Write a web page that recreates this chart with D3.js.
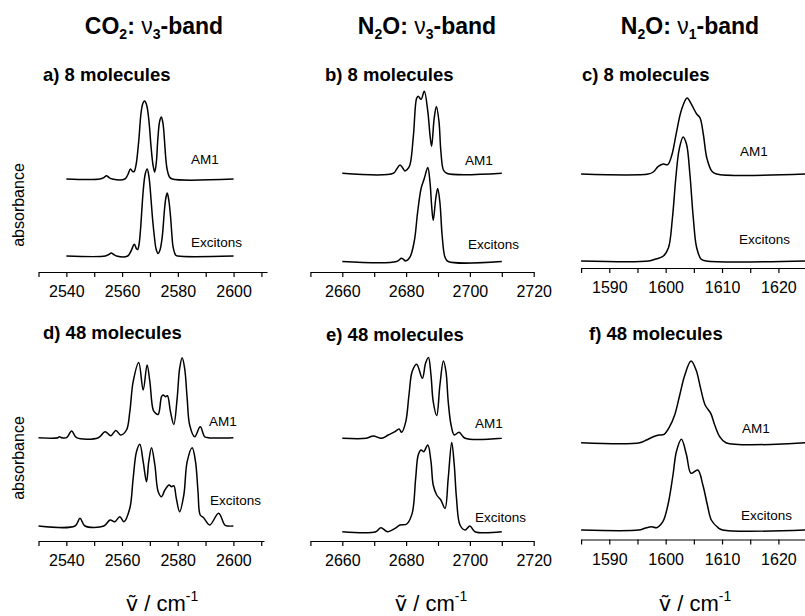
<!DOCTYPE html>
<html>
<head>
<meta charset="utf-8">
<script src="https://cdn.jsdelivr.net/npm/d3@7"></script>
<style>
  body { margin: 0; background: #fff; }
  svg { display: block; font-family: "Liberation Sans", Arial, sans-serif; }
  .axis path, .axis line { stroke: #000; stroke-width: 1.2; }
  .axis text { font-size: 16px; fill: #000; }
</style>
</head>
<body>
<div id="chart"></div>
<script>
// spectra: [wavenumber cm-1, absorbance a.u.]
const co2_8_am1 = [[2540,0],[2552,0],[2553.5,1.5],[2554.4,3.3],[2555.3,1.5],[2556.5,0],[2561,0],[2562,4],[2563,10],[2563.8,7.5],[2564.3,7.3],[2565,14],[2566,39],[2566.8,66],[2567.5,76],[2568.1,78],[2568.8,74],[2569.6,59],[2570.4,32],[2571.1,14],[2571.7,7],[2572.3,17],[2572.8,39],[2573.5,58],[2574.1,62],[2574.7,55],[2575.2,39],[2575.7,20],[2576.2,9],[2577,2],[2578,0],[2600,0]];
const co2_8_exc = [[2540,0],[2554,0],[2555.2,1.5],[2556.1,3],[2557,1.5],[2558,0],[2562,0],[2563.2,5],[2564.4,11.7],[2565.2,7],[2565.6,6.5],[2566.1,12],[2566.6,26],[2567.6,66],[2568.3,82],[2569,87],[2569.7,78],[2570.4,56],[2571,35],[2571.6,19],[2572.2,7],[2572.9,2.5],[2573.6,6],[2574.4,19],[2575.2,46],[2575.7,58],[2576.2,63],[2576.8,55],[2577.4,39],[2577.9,20],[2578.3,9],[2579.2,1],[2580,0],[2600,0]];

const n2o3_8_am1 = [[2660,0],[2676,0],[2677,4],[2678.1,8.3],[2679,5],[2679.6,2.3],[2680.4,4],[2681.2,8.3],[2682.3,38],[2683.3,75],[2683.8,77],[2684.7,74],[2685.7,82],[2686.8,62],[2687.5,38],[2688,27],[2688.8,55],[2689.5,66.7],[2690.3,52],[2690.9,22],[2691.7,3.3],[2692.7,0],[2710,0]];
const n2o3_8_exc = [[2660,0],[2677,0],[2678.6,3.3],[2679.9,0.5],[2681.2,4.3],[2682.6,21],[2683.6,49],[2684.7,73],[2685.7,83],[2686.8,94],[2687.5,79],[2688,56],[2688.5,41],[2689.3,63],[2689.9,73],[2690.6,59],[2691.3,26],[2692.2,4.3],[2693.2,0],[2710,0]];

const n2o1_8_am1 = [[1585,0],[1596.9,0],[1597.8,2],[1598.7,7.7],[1599.6,10],[1600.35,9.3],[1601.1,19],[1601.95,42.7],[1602.8,64],[1603.8,76],[1604.6,69.3],[1605.5,60],[1606.1,56],[1606.7,39],[1607.3,16],[1608.2,2.7],[1609,0],[1625,0]];
const n2o1_8_exc = [[1585,0],[1597,0],[1598.1,1.7],[1599.6,5],[1600.5,13.3],[1601.2,43],[1601.8,83],[1602.4,111.7],[1603.1,124],[1603.7,116.7],[1604.3,86.7],[1604.9,43],[1605.5,13.3],[1606.3,1.7],[1607.2,0],[1625,0]];

const co2_48_am1 = [[2530,0],[2537,0],[2537.5,1],[2538.3,0],[2540.1,0],[2541.9,6.7],[2543.7,0],[2551.5,0],[2553.9,6],[2556,2],[2557.8,7.3],[2559.5,2.7],[2561.6,7.7],[2562.8,26],[2564,56],[2566,75.3],[2567.6,47.7],[2569,72.7],[2570,56],[2571.2,27.7],[2572.1,24.3],[2573,23.3],[2574.2,41],[2574.8,42.7],[2575.6,41],[2576.3,42],[2577.4,26],[2578.6,13.3],[2579.8,39.3],[2580.7,69.3],[2581.6,80],[2582.5,69.3],[2583.4,39.3],[2584.3,12.7],[2586.1,1],[2588.1,11],[2589.7,1],[2591,0],[2600,0]];
const co2_48_exc = [[2530,0],[2543.1,0],[2544.9,7.7],[2546.7,0],[2553.5,0],[2555.7,6],[2557.4,4.3],[2559.2,9.3],[2560.7,4.3],[2562.8,17.7],[2564,47.7],[2565.2,74.3],[2566.4,81.7],[2567.6,64.3],[2568.8,44.3],[2569.6,64.3],[2570.6,78.3],[2571.8,61],[2573,34.3],[2574.2,29.3],[2575.4,36],[2576.9,41],[2577.8,39.3],[2578.6,40.3],[2579.5,27.7],[2580.7,14.3],[2582.2,31],[2583.4,64.3],[2585.2,78.3],[2586.4,64.3],[2587.3,34.3],[2588.1,11],[2589.3,8.3],[2591.5,1],[2594.7,12.7],[2596.9,1],[2598,0],[2600,0]];

const n2o3_48_am1 = [[2660,0],[2667.5,0],[2669.7,2.3],[2672.3,0],[2674.4,3.3],[2676.5,6.7],[2677.8,9.3],[2678.6,6],[2679.9,16.7],[2680.9,43.3],[2681.9,66.7],[2683.3,74],[2685.1,60],[2686.1,75],[2687,80.7],[2687.8,63.3],[2688.5,36.7],[2689.6,22.7],[2690.6,53.3],[2691.7,77.3],[2692.5,66.7],[2693.2,36.7],[2694.1,13.3],[2695.1,3.3],[2696.6,6],[2698.5,0],[2710,0]];
const n2o3_48_exc = [[2660,0],[2670.5,0],[2672.1,4],[2674.2,0],[2676.5,3.3],[2678.1,6.7],[2680.2,7.7],[2681.9,18.3],[2683,53.3],[2683.8,76.7],[2684.7,81.7],[2685.5,80],[2686.8,86.7],[2687.8,70],[2688.5,46.7],[2689.6,36.7],[2690.9,31.7],[2692.2,23.3],[2693.2,53.3],[2694.3,89.3],[2695.1,66.7],[2695.8,33.3],[2696.9,6.7],[2698.5,1.7],[2700,5.7],[2701.6,0],[2710,0]];

const n2o1_48_am1 = [[1585,0],[1595.4,0],[1596.6,2.7],[1597.8,6],[1598.8,7.7],[1599.7,8.3],[1600.7,16],[1601.6,27.7],[1602.5,47.7],[1603.4,67.7],[1604.5,81.7],[1605.4,72.7],[1606.2,54.3],[1607,37.7],[1608,29.3],[1608.7,17.7],[1609.6,6],[1610.7,0],[1625,0]];
const n2o1_48_exc = [[1585,0],[1595.2,0],[1596.3,1.7],[1597.5,3.3],[1598.4,2.3],[1599.5,8.3],[1600.4,25],[1601.3,55],[1601.9,78.3],[1602.8,90.7],[1603.7,75],[1604.5,56.7],[1605.7,60],[1606.6,45],[1607.4,25],[1608.1,10],[1609.3,2.3],[1610.1,0],[1625,0]];

// axes ticks
const ticksCO2 = [2530, 2540, 2550, 2560, 2570, 2580, 2590, 2600, 2610];
const labelsCO2 = [2540, 2560, 2580, 2600];
const ticksN2O3 = [2650, 2660, 2670, 2680, 2690, 2700, 2710, 2720];
const labelsN2O3 = [2660, 2680, 2700, 2720];
const ticksN2O1 = [1585, 1590, 1595, 1600, 1605, 1610, 1615, 1620, 1625];
const labelsN2O1 = [1590, 1600, 1610, 1620];

const columnTitles = [
  {mol: "CO", sub: "2", band: "3", x: 154},
  {mol: "N", sub: "2", rest: "O", band: "3", x: 427},
  {mol: "N", sub: "2", rest: "O", band: "1", x: 690}
];

const panels = [
  {label: "a) 8 molecules", lx: 43, ly: 81, am1: co2_8_am1, exc: co2_8_exc, ticks: ticksCO2, labels: labelsCO2,
   domain: [2530, 2612], range: [38.5, 267], axisY: 272, excBase: 256, am1Base: 179,
   am1Pos: [191, 164], excPos: [191, 247]},
  {label: "b) 8 molecules", lx: 325, ly: 81, am1: n2o3_8_am1, exc: n2o3_8_exc, ticks: ticksN2O3, labels: labelsN2O3,
   domain: [2650, 2720], range: [310.4, 533.7], axisY: 272, excBase: 261.5, am1Base: 173.3,
   am1Pos: [465, 165], excPos: [468, 249]},
  {label: "c) 8 molecules", lx: 582, ly: 81, am1: n2o1_8_am1, exc: n2o1_8_exc, ticks: ticksN2O1, labels: labelsN2O1,
   domain: [1585, 1625], range: [581.1, 806.6], axisY: 268, excBase: 261, am1Base: 174,
   am1Pos: [740, 156], excPos: [739, 244]},
  {label: "d) 48 molecules", lx: 43, ly: 339, am1: co2_48_am1, exc: co2_48_exc, ticks: ticksCO2, labels: labelsCO2,
   domain: [2530, 2611], range: [38.5, 264], axisY: 541, excBase: 526, am1Base: 437.7,
   am1Pos: [209, 426], excPos: [210, 505]},
  {label: "e) 48 molecules", lx: 326, ly: 341, am1: n2o3_48_am1, exc: n2o3_48_exc, ticks: ticksN2O3, labels: labelsN2O3,
   domain: [2650, 2720], range: [310.4, 533.7], axisY: 541, excBase: 531.7, am1Base: 438.3,
   am1Pos: [475, 428], excPos: [475, 522]},
  {label: "f) 48 molecules", lx: 589, ly: 340, am1: n2o1_48_am1, exc: n2o1_48_exc, ticks: ticksN2O1, labels: labelsN2O1,
   domain: [1585, 1625], range: [581.1, 806.6], axisY: 539.5, excBase: 530, am1Base: 442.7,
   am1Pos: [742, 433], excPos: [741, 520]}
];

const width = 805, height = 616;
const svg = d3.select('#chart').append('svg')
  .attr('width', width)
  .attr('height', height);

// column headings
columnTitles.forEach(c => {
  const t = svg.append('text')
    .attr('x', c.x).attr('y', 34)
    .attr('text-anchor', 'middle')
    .attr('font-size', 23).attr('font-weight', 'bold');
  t.append('tspan').text(c.mol);
  t.append('tspan').text(c.sub).attr('font-size', 14).attr('dy', 5);
  t.append('tspan').text((c.rest || '') + ': ').attr('dy', -5);
  t.append('tspan').text('ν').attr('font-weight', 'normal');
  t.append('tspan').text(c.band).attr('font-size', 14).attr('dy', 5);
  t.append('tspan').text('-band').attr('dy', -5);
});

panels.forEach(p => {
  const x = d3.scaleLinear().domain(p.domain).range(p.range);
  const y = d3.scaleLinear().domain([0, 100]).range([p.excBase, p.excBase - 100]);
  const offset = p.excBase - p.am1Base;

  const line = d3.line()
    .x(d => x(d[0]))
    .y(d => y(d[1]))
    .curve(d3.curveCatmullRom.alpha(0.5));

  svg.append('path')
    .datum(p.am1.map(d => [d[0], d[1] + offset]))
    .attr('d', line)
    .attr('fill', 'none').attr('stroke', '#000').attr('stroke-width', 1.5);

  svg.append('path')
    .datum(p.exc)
    .attr('d', line)
    .attr('fill', 'none').attr('stroke', '#000').attr('stroke-width', 1.5);

  svg.append('g')
    .attr('class', 'axis')
    .attr('transform', `translate(0,${p.axisY})`)
    .call(d3.axisBottom(x)
      .tickValues(p.ticks)
      .tickSize(5)
      .tickSizeOuter(0)
      .tickPadding(9)
      .tickFormat(d => p.labels.includes(d) ? d : ''));

  svg.append('text')
    .attr('x', p.lx).attr('y', p.ly)
    .attr('font-size', 18.5).attr('font-weight', 'bold')
    .text(p.label);

  svg.append('text')
    .attr('x', p.am1Pos[0]).attr('y', p.am1Pos[1])
    .attr('font-size', 13.5)
    .text('AM1');

  svg.append('text')
    .attr('x', p.excPos[0]).attr('y', p.excPos[1])
    .attr('font-size', 13.5)
    .text('Excitons');
});

// y labels
[205, 458].forEach(cy => {
  svg.append('text')
    .attr('transform', `translate(24,${cy}) rotate(-90)`)
    .attr('text-anchor', 'middle')
    .attr('font-size', 16)
    .text('absorbance');
});

// x titles (wavenumber symbol as one precomposed glyph)
[162, 431, 695].forEach(cx => {
  const t = svg.append('text')
    .attr('x', cx).attr('y', 611)
    .attr('text-anchor', 'middle')
    .attr('font-size', 22);
  t.append('tspan').text('\u1E7D').attr('font-family', '"DejaVu Sans", sans-serif').attr('font-size', 21);
  t.append('tspan').text(' / cm');
  t.append('tspan').text('-1').attr('font-size', 14).attr('dy', -10);
});
</script>
</body>
</html>
